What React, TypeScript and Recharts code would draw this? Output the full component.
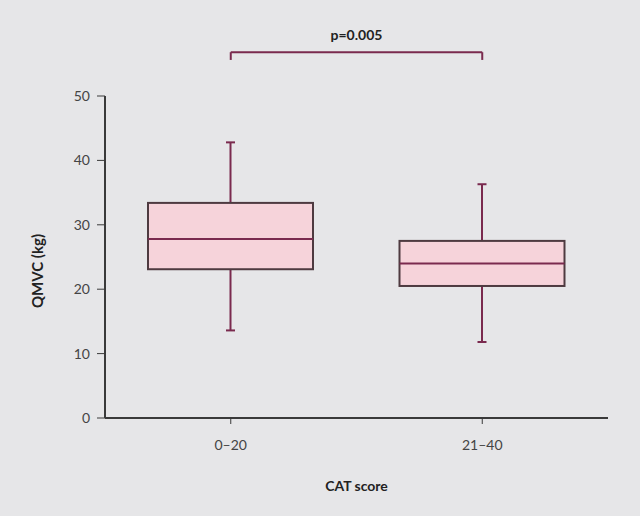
import React from "react";
import { ComposedChart, Bar, XAxis, YAxis, ReferenceLine } from "recharts";

// CAT score groups and box-plot stats (QMVC, kg)
const categories = ["0–20", "21–40"];
const mins = [13.6, 11.8];
const q1s = [23.1, 20.5];
const medians = [27.8, 24.0];
const q3s = [33.4, 27.5];
const maxs = [42.8, 36.3];
const yTicks = [0, 10, 20, 30, 40, 50];

const bracketY = 56.8;
const bracketLegY = 55.6;
const pLabel = "p=0.005";

const data = categories.map((cat, i) => ({
  cat,
  range: [mins[i], maxs[i]],
  min: mins[i],
  q1: q1s[i],
  median: medians[i],
  q3: q3s[i],
  max: maxs[i],
}));

const FONT = "Lato, 'Open Sans', sans-serif";
const BG = "#e6e6e8";
const MAROON = "#7a2a4e";
const BOX_STROKE = "#4e3a40";
const BOX_FILL = "#f6d3da";

// draws whisker + box + median for one group; y/height span min..max
function BoxShape(props: any) {
  const { x, y, width, height, payload } = props;
  if (!payload || height == null) return null;
  const { min, q1, median, q3, max } = payload;
  const k = height / (max - min);
  const py = (v: number) => y + (max - v) * k;
  const cx = x + width / 2;
  const cap = 4.5;
  return (
    <g>
      <line x1={cx} x2={cx} y1={py(max)} y2={py(min)} stroke={MAROON} strokeWidth={2} />
      <line x1={cx - cap} x2={cx + cap} y1={py(max)} y2={py(max)} stroke={MAROON} strokeWidth={2} />
      <line x1={cx - cap} x2={cx + cap} y1={py(min)} y2={py(min)} stroke={MAROON} strokeWidth={2} />
      <rect
        x={x}
        y={py(q3)}
        width={width}
        height={py(q1) - py(q3)}
        fill={BOX_FILL}
        stroke={BOX_STROKE}
        strokeWidth={2}
      />
      <line x1={x} x2={x + width} y1={py(median)} y2={py(median)} stroke={MAROON} strokeWidth={2} />
    </g>
  );
}

export default function App() {
  return (
    <div style={{ position: "absolute", left: 0, top: 0, width: 640, height: 516, background: BG }}>
      <ComposedChart
        width={640}
        height={516}
        data={data}
        margin={{ top: 96, right: 32, bottom: 0, left: 0 }}
        style={{ fontFamily: FONT }}
      >
        <XAxis
          dataKey="cat"
          height={98}
          tickSize={6}
          tickMargin={16}
          axisLine={{ stroke: "#3a3a3a", strokeWidth: 2 }}
          tickLine={{ stroke: "#3a3a3a" }}
          tick={{ fill: "#444", fontSize: 14, fontFamily: FONT }}
          label={{
            value: "CAT score",
            position: "insideBottom",
            offset: 25,
            fill: "#222",
            fontSize: 14,
            fontWeight: 700,
            fontFamily: FONT,
          }}
        />
        <YAxis
          width={105}
          domain={[0, 50]}
          ticks={yTicks}
          tickSize={8}
          tickMargin={7}
          axisLine={{ stroke: "#3a3a3a", strokeWidth: 2 }}
          tickLine={{ stroke: "#3a3a3a" }}
          tick={{ fill: "#444", fontSize: 14, fontFamily: FONT }}
          label={{
            value: "QMVC (kg)",
            angle: -90,
            position: "center",
            dx: -15,
            dy: 14,
            fill: "#222",
            fontSize: 15,
            fontWeight: 700,
            fontFamily: FONT,
          }}
        />
        <Bar dataKey="range" barSize={165} shape={<BoxShape />} isAnimationActive={false} />
        <ReferenceLine
          ifOverflow="visible"
          segment={[
            { x: categories[0], y: bracketY },
            { x: categories[1], y: bracketY },
          ]}
          stroke={MAROON}
          strokeWidth={2}
          label={{
            value: pLabel,
            position: "top",
            offset: 12,
            fill: "#222",
            fontSize: 14,
            fontWeight: 700,
            fontFamily: FONT,
          }}
        />
        <ReferenceLine
          ifOverflow="visible"
          segment={[
            { x: categories[0], y: bracketY },
            { x: categories[0], y: bracketLegY },
          ]}
          stroke={MAROON}
          strokeWidth={2}
        />
        <ReferenceLine
          ifOverflow="visible"
          segment={[
            { x: categories[1], y: bracketY },
            { x: categories[1], y: bracketLegY },
          ]}
          stroke={MAROON}
          strokeWidth={2}
        />
      </ComposedChart>
    </div>
  );
}
